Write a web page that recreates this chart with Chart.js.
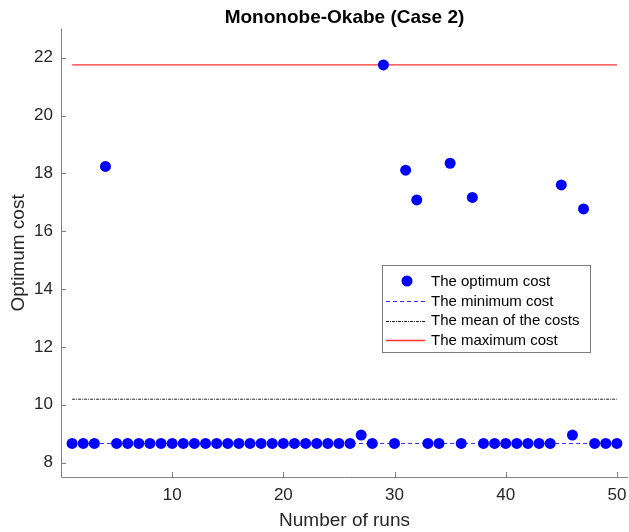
<!DOCTYPE html>
<html>
<head>
<meta charset="utf-8">
<script src="https://cdn.jsdelivr.net/npm/chart.js@4/dist/chart.umd.min.js"></script>
<style>
  html, body { margin: 0; padding: 0; background: #ffffff; }
  #c { display: block; }
</style>
</head>
<body>
<canvas id="c" width="629" height="532"></canvas>
<script>
// ---- Data ----
const runs = [1,2,3,4,5,6,7,8,9,10,11,12,13,14,15,16,17,18,19,20,21,22,23,24,25,26,27,28,29,30,31,32,33,34,35,36,37,38,39,40,41,42,43,44,45,46,47,48,49,50];
const optimumCost = [
  8.66, 8.66, 8.66, 18.24, 8.66, 8.66, 8.66, 8.66, 8.66, 8.66,
  8.66, 8.66, 8.66, 8.66, 8.66, 8.66, 8.66, 8.66, 8.66, 8.66,
  8.66, 8.66, 8.66, 8.66, 8.66, 8.66, 8.95, 8.66, 21.75, 8.66,
  18.11, 17.08, 8.66, 8.66, 18.35, 8.66, 17.17, 8.66, 8.66, 8.66,
  8.66, 8.66, 8.66, 8.66, 17.60, 8.95, 16.77, 8.66, 8.66, 8.66
];
const minimumCost = 8.66;
const meanCost = 10.19;
const maximumCost = 21.75;
const lineRuns = [1, 50];
const xTickValues = [10, 20, 30, 40, 50];
const yTickValues = [8, 10, 12, 14, 16, 18, 20, 22];
const seriesLabels = ['The optimum cost', 'The minimum cost', 'The mean of the costs', 'The maximum cost'];
const chartTitle = 'Mononobe-Okabe (Case 2)';
const xTitle = 'Number of runs';
const yTitle = 'Optimum cost';

const FONT = '"Liberation Sans", Arial, Helvetica, sans-serif';
const AXIS_COLOR = '#808080';
const TEXT_COLOR = '#262626';

const styles = [
  { color: '#0000ff', dash: [], width: 0, marker: true },
  { color: '#2a2aff', dash: [4, 3], width: 1, marker: false },
  { color: '#222222', dash: [3, 1, 1, 1], width: 1, marker: false },
  { color: '#ff3030', dash: [], width: 1.3, marker: false }
];

// Axes with inward ticks (MATLAB style)
const axesPlugin = {
  id: 'matlabAxes',
  afterDatasetsDraw(chart) {
    const { ctx, chartArea: a, scales: { x, y } } = chart;
    ctx.save();
    ctx.strokeStyle = AXIS_COLOR;
    ctx.lineWidth = 1;
    ctx.beginPath();
    ctx.moveTo(a.left + 0.5, a.top);
    ctx.lineTo(a.left + 0.5, a.bottom + 0.5);
    ctx.lineTo(a.right, a.bottom + 0.5);
    ctx.stroke();
    ctx.beginPath();
    xTickValues.forEach(v => {
      const px = Math.round(x.getPixelForValue(v)) + 0.5;
      ctx.moveTo(px, a.bottom);
      ctx.lineTo(px, a.bottom - 5);
    });
    yTickValues.forEach(v => {
      const py = Math.round(y.getPixelForValue(v)) + 0.5;
      ctx.moveTo(a.left, py);
      ctx.lineTo(a.left + 5, py);
    });
    ctx.stroke();
    ctx.restore();
  }
};

// Legend box inside the plot
const legendPlugin = {
  id: 'insideLegend',
  afterDraw(chart) {
    const { ctx } = chart;
    const left = 382, top = 265, w = 208, h = 87;
    ctx.save();
    ctx.fillStyle = '#ffffff';
    ctx.fillRect(left, top, w, h);
    ctx.strokeStyle = '#7a7a7a';
    ctx.lineWidth = 1;
    ctx.strokeRect(left + 0.5, top + 0.5, w, h);
    const rowY = [281, 301, 320.5, 340];
    ctx.font = '15px ' + FONT;
    ctx.textBaseline = 'middle';
    ctx.textAlign = 'left';
    chart.data.datasets.forEach((ds, i) => {
      const s = styles[i];
      const yy = rowY[i];
      if (s.marker) {
        ctx.fillStyle = s.color;
        ctx.beginPath();
        ctx.arc(407, yy, 5.5, 0, Math.PI * 2);
        ctx.fill();
      } else {
        ctx.strokeStyle = s.color;
        ctx.lineWidth = s.width;
        ctx.setLineDash(s.dash);
        ctx.beginPath();
        ctx.moveTo(386, Math.round(yy) + 0.5);
        ctx.lineTo(425, Math.round(yy) + 0.5);
        ctx.stroke();
        ctx.setLineDash([]);
      }
      ctx.fillStyle = '#000000';
      ctx.fillText(ds.label, 431, yy + 0.5);
    });
    ctx.restore();
  }
};

const pts = runs.map((r, i) => ({ x: r, y: optimumCost[i] }));
const hLine = v => lineRuns.map(r => ({ x: r, y: v }));

const lineDs = (i, v, order) => ({
  type: 'line',
  label: seriesLabels[i],
  data: hLine(v),
  borderColor: styles[i].color,
  borderWidth: styles[i].width,
  borderDash: styles[i].dash,
  pointRadius: 0,
  fill: false,
  order: order
});

new Chart(document.getElementById('c'), {
  type: 'scatter',
  data: {
    datasets: [
      {
        label: seriesLabels[0],
        data: pts,
        backgroundColor: styles[0].color,
        borderColor: styles[0].color,
        pointRadius: 5.5,
        pointBorderWidth: 0,
        showLine: false,
        order: 0
      },
      lineDs(1, minimumCost, 3),
      lineDs(2, meanCost, 2),
      lineDs(3, maximumCost, 1)
    ]
  },
  options: {
    responsive: false,
    animation: false,
    devicePixelRatio: 1,
    layout: { autoPadding: false, padding: { left: 0, right: 1, top: 0, bottom: 0 } },
    plugins: {
      legend: { display: false },
      tooltip: { enabled: false },
      title: {
        display: true,
        fullSize: false,
        align: 'center',
        text: chartTitle,
        color: '#000000',
        font: { family: FONT, size: 19, weight: 'bold' },
        padding: { top: 6, bottom: 0 }
      }
    },
    scales: {
      x: {
        type: 'linear',
        min: 0,
        max: 51,
        afterBuildTicks: s => { s.ticks = xTickValues.map(v => ({ value: v })); },
        afterFit: s => { s.height = 55; s.paddingRight = 0; s.paddingLeft = 0; },
        grid: { display: false, drawTicks: false },
        border: { display: false },
        ticks: {
          color: TEXT_COLOR,
          font: { family: FONT, size: 17 },
          padding: 8,
          maxRotation: 0,
          autoSkip: false
        },
        title: {
          display: true,
          text: xTitle,
          color: TEXT_COLOR,
          font: { family: FONT, size: 19 },
          padding: { top: 0, bottom: 0 }
        }
      },
      y: {
        type: 'linear',
        min: 7.5,
        max: 23,
        afterBuildTicks: s => { s.ticks = yTickValues.map(v => ({ value: v })); },
        afterFit: s => { s.width = 61; s.paddingTop = 0; s.paddingBottom = 0; },
        grid: { display: false, drawTicks: false },
        border: { display: false },
        ticks: {
          color: TEXT_COLOR,
          font: { family: FONT, size: 17 },
          padding: 8,
          autoSkip: false
        },
        title: {
          display: true,
          text: yTitle,
          color: TEXT_COLOR,
          font: { family: FONT, size: 19 },
          padding: { top: 7, bottom: 0 }
        }
      }
    }
  },
  plugins: [axesPlugin, legendPlugin]
});
</script>
</body>
</html>
